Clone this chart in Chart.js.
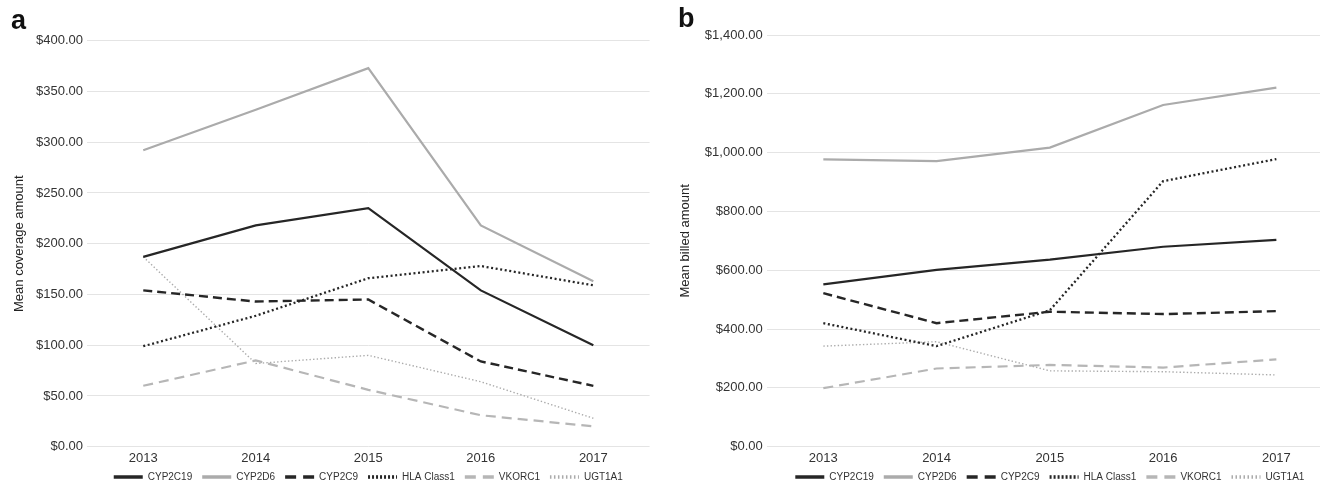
<!DOCTYPE html>
<html>
<head>
<meta charset="utf-8">
<script src="https://cdn.jsdelivr.net/npm/chart.js@4/dist/chart.umd.min.js"></script>
<style>
  html, body { margin: 0; padding: 0; background: #fff; overflow: hidden; }
  #page { position: relative; width: 1320px; height: 488px; overflow: hidden; }
  .panel { position: absolute; top: 0; height: 492px; }
  #boxA { left: 0; width: 660px; }
  #boxB { left: 660px; width: 680px; }
  .tag { position: absolute; font-family: "Liberation Sans", Arial, sans-serif; font-weight: bold; font-size: 27px; color: #111; line-height: 1; }
</style>
</head>
<body>
<div id="page">
  <div class="panel" id="boxA"><canvas id="chartA"></canvas></div>
  <div class="panel" id="boxB"><canvas id="chartB"></canvas></div>
  <div class="tag" style="left:11px; top:7px;">a</div>
  <div class="tag" style="left:678px; top:5px;">b</div>
</div>
<script>
// Years on the x axis
const years = ['2013', '2014', '2015', '2016', '2017'];
const genes = ['CYP2C19', 'CYP2D6', 'CYP2C9', 'HLA Class1', 'VKORC1', 'UGT1A1'];

// Mean coverage amount (USD) per gene
const coverageCYP2C19 = [187, 218, 235, 154, 100];
const coverageCYP2D6  = [292, 332, 373, 218, 163];
const coverageCYP2C9  = [154, 143, 145, 84, 60];
const coverageHLA     = [99, 129, 166, 178, 159];
const coverageVKORC1  = [60, 85, 56, 31, 20];
const coverageUGT1A1  = [187, 82, 90, 64, 28];

// Mean billed amount (USD) per gene
const billedCYP2C19 = [552, 601, 636, 680, 703];
const billedCYP2D6  = [977, 971, 1017, 1162, 1221];
const billedCYP2C9  = [522, 420, 459, 451, 461];
const billedHLA     = [420, 342, 464, 903, 978];
const billedVKORC1  = [199, 266, 278, 269, 297];
const billedUGT1A1  = [342, 357, 258, 255, 244];

// y axis ranges
const coverageAxis = { max: 400, step: 50 };
const billedAxis   = { max: 1400, step: 200 };

const FONT = '"Liberation Sans", Arial, Helvetica, sans-serif';
const DARK = '#262626';
const GREY = '#ababab';
const LIGHT = '#b6b6b6';

// line style per gene, in the same order as `genes`
const styles = [
  { color: DARK,  width: 2.2, dash: [],          key: [] },
  { color: GREY,  width: 2.2, dash: [],          key: [] },
  { color: DARK,  width: 2.4, dash: [9, 5],      key: [11, 7] },
  { color: DARK,  width: 2.3, dash: [2, 2.6],    key: [2, 2] },
  { color: LIGHT, width: 2.2, dash: [10, 6],     key: [11, 7] },
  { color: GREY,  width: 1.4, dash: [1.4, 2.2],  key: [1.5, 2.5] }
];

function money(v) {
  return v.toLocaleString('en-US', { style: 'currency', currency: 'USD', minimumFractionDigits: 2 });
}

function makeDatasets(series) {
  return series.map((values, i) => ({
    label: genes[i],
    data: values,
    borderColor: styles[i].color,
    backgroundColor: styles[i].color,
    borderWidth: styles[i].width,
    borderDash: styles[i].dash,
    borderCapStyle: 'butt',
    borderJoinStyle: 'miter',
    pointRadius: 0,
    pointHoverRadius: 0,
    tension: 0,
    fill: false
  }));
}

function makeChart(canvasId, series, axis, title, opts) {
  return new Chart(document.getElementById(canvasId), {
    type: 'line',
    data: { labels: years, datasets: makeDatasets(series) },
    options: {
      responsive: true,
      maintainAspectRatio: false,
      animation: false,
      devicePixelRatio: 1,
      layout: { padding: { top: opts.top, right: opts.right, bottom: 0, left: 0 } },
      plugins: {
        tooltip: { enabled: false },
        legend: {
          position: 'bottom',
          fullSize: false,
          labels: {
            usePointStyle: true,
            pointStyle: 'line',
            pointStyleWidth: 29,
            boxWidth: 29,
            padding: 10,
            color: '#333',
            font: { family: FONT, size: 10 },
            generateLabels(chart) {
              const items = Chart.defaults.plugins.legend.labels.generateLabels(chart);
              return items.map((it, i) => Object.assign(it, {
                pointStyle: 'line',
                lineWidth: 3.6,
                lineDash: styles[i].key,
                lineCap: 'butt',
                strokeStyle: styles[i].color,
                fillStyle: styles[i].color
              }));
            }
          }
        }
      },
      scales: {
        x: {
          offset: true,
          grid: { display: false, drawTicks: false, offset: true },
          border: { display: false },
          ticks: { color: '#333', font: { family: FONT, size: 13 }, padding: 4, maxRotation: 0 },
          afterFit(scale) { scale.height = opts.xHeight; }
        },
        y: {
          min: 0,
          max: axis.max,
          grid: { color: '#e4e4e4', lineWidth: 1, drawTicks: false },
          border: { display: false },
          ticks: {
            stepSize: axis.step,
            color: '#333',
            font: { family: FONT, size: 13 },
            padding: 4,
            callback: v => money(v)
          },
          title: {
            display: true,
            text: title,
            color: '#222',
            font: { family: FONT, size: 13 },
            padding: { top: opts.titlePad, bottom: 0 }
          },
          afterFit(scale) { scale.width = opts.yWidth; }
        }
      }
    }
  });
}

makeChart('chartA',
  [coverageCYP2C19, coverageCYP2D6, coverageCYP2C9, coverageHLA, coverageVKORC1, coverageUGT1A1],
  coverageAxis, 'Mean coverage amount',
  { top: 40.7, right: 10.4, yWidth: 87, xHeight: 15.3, titlePad: 12 });

makeChart('chartB',
  [billedCYP2C19, billedCYP2D6, billedCYP2C9, billedHLA, billedVKORC1, billedUGT1A1],
  billedAxis, 'Mean billed amount',
  { top: 35, right: 7, yWidth: 106.7, xHeight: 15.3, titlePad: 18 });
</script>
</body>
</html>
